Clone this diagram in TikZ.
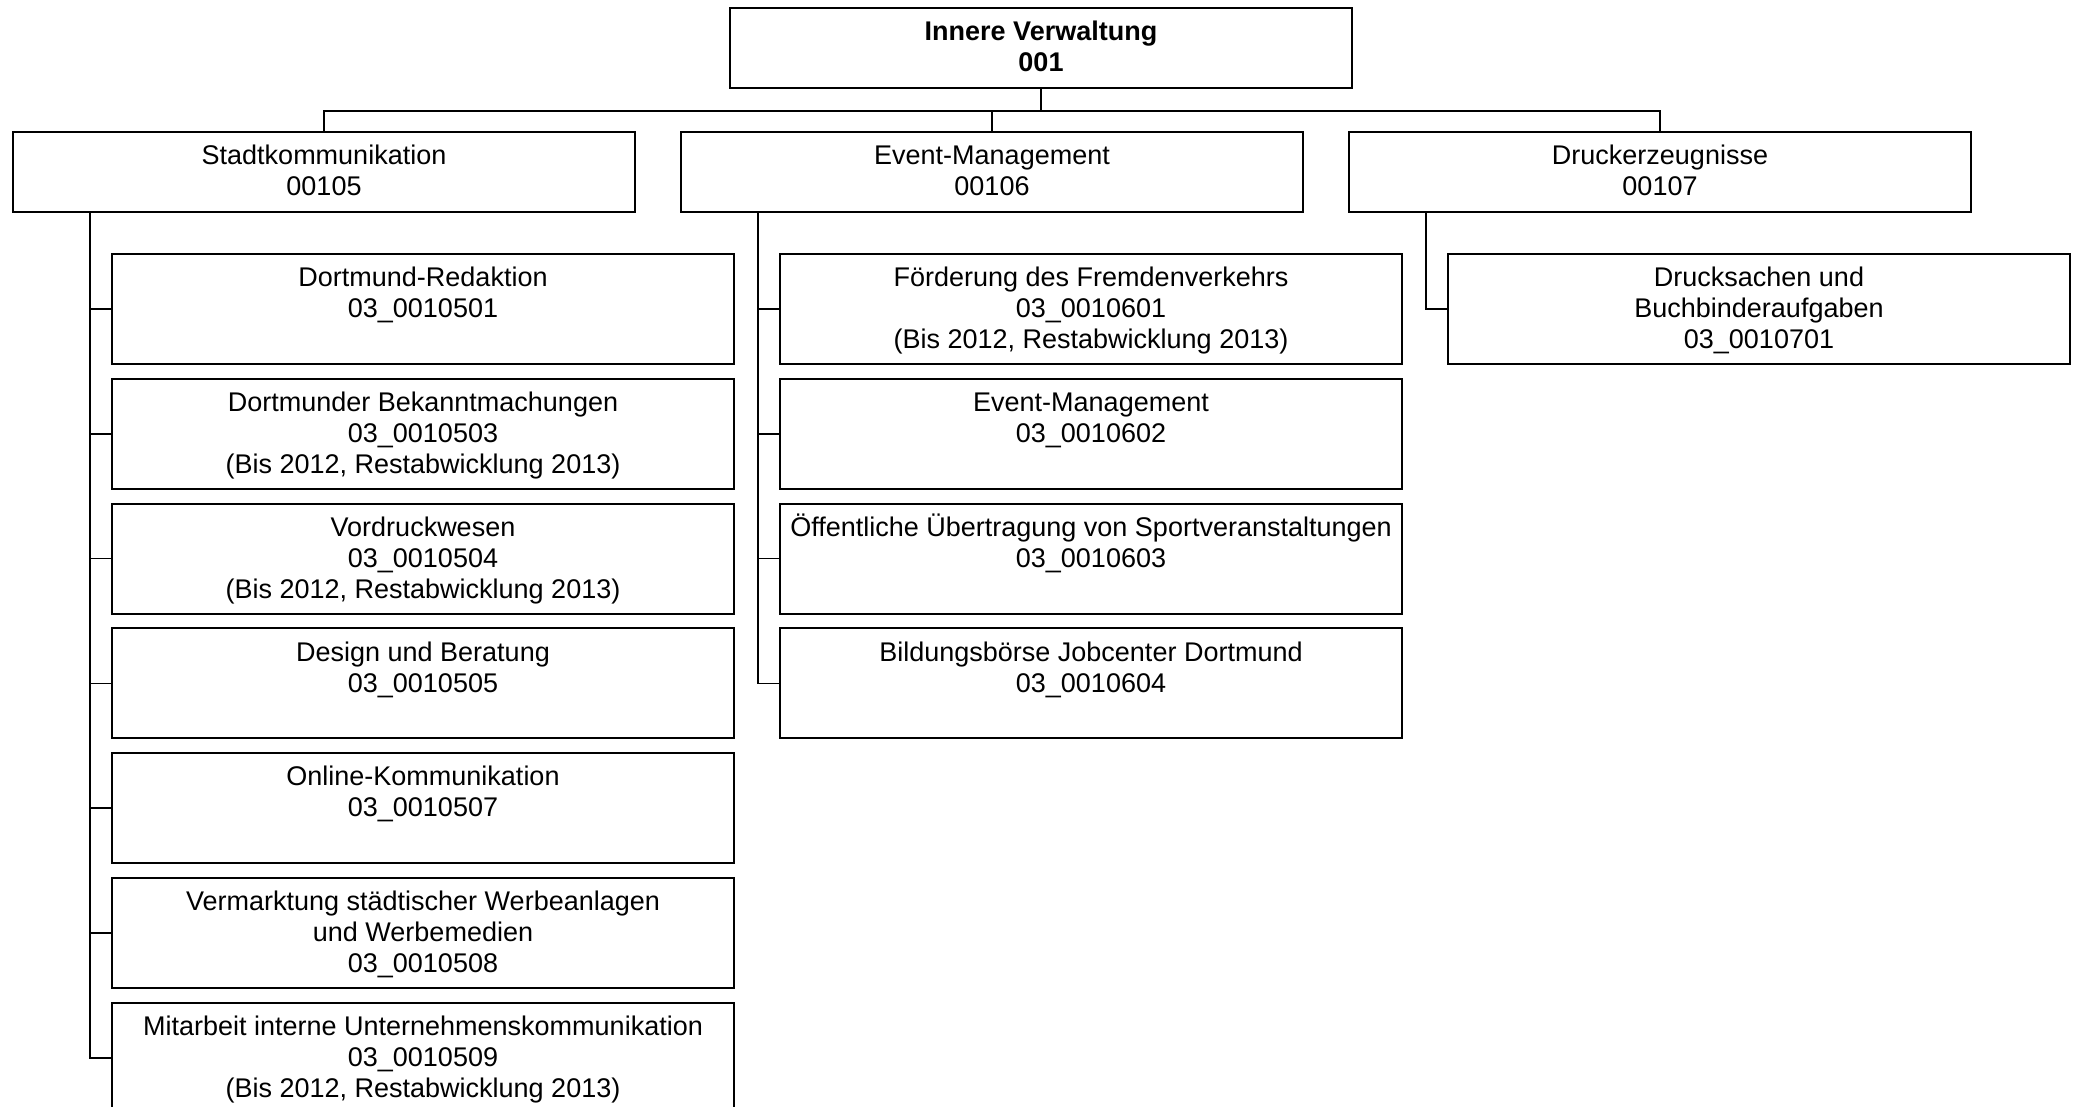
\documentclass[tikz,border=0pt]{standalone}
\usepackage{fontspec}
\setmainfont{Liberation Sans}

% text of a box, top aligned
\newcommand{\boxtxt}[2]{\parbox[c][#1][t]{248.8pt}{\centering\rule{0pt}{13.1pt}#2}}

\begin{document}
\begin{tikzpicture}[x=0.4pt, y=-0.4pt,
    orgbox/.style={draw, line width=0.8pt, inner sep=0pt, outer sep=0pt, anchor=north west,
        font=\fontsize{10.8pt}{12.4pt}\selectfont},
    link/.style={line width=0.6pt}]
    % Page area
    \fill[white] (0,0) rectangle (2074,1107);
    \useasboundingbox (0,0) rectangle (2074,1107);
    \clip (0,0) rectangle (2074,1107);

    % Top unit
    \node[orgbox] (iv) at (730,8) {\boxtxt{32pt}{\bfseries Innere Verwaltung\\001}};

    % Departments
    \node[orgbox] (sk) at (13,132) {\boxtxt{32pt}{Stadtkommunikation\\00105}};
    \node[orgbox] (em) at (681,132) {\boxtxt{32pt}{Event-Management\\00106}};
    \node[orgbox] (dz) at (1349,132) {\boxtxt{32pt}{Druckerzeugnisse\\00107}};

    % Lines from the top unit
    \draw[link] (iv.south) -- ++(0,22);
    \draw[link] (sk.north) -- ++(0,-21) -| (dz.north);
    \draw[link] (em.north) -- ++(0,-21);

    % Stadtkommunikation
    \foreach \k/\txt in {
        1/{Dortmund-Redaktion\\03\_0010501},
        2/{Dortmunder Bekanntmachungen\\03\_0010503\\(Bis 2012, Restabwicklung 2013)},
        3/{Vordruckwesen\\03\_0010504\\(Bis 2012, Restabwicklung 2013)},
        4/{Design und Beratung\\03\_0010505},
        5/{Online-Kommunikation\\03\_0010507},
        6/{Vermarktung städtischer Werbeanlagen\\und Werbemedien\\03\_0010508},
        7/{Mitarbeit interne Unternehmenskommunikation\\03\_0010509\\(Bis 2012, Restabwicklung 2013)}}
        \node[orgbox] (sk\k) at (112,{254+124.8*(\k-1)}) {\boxtxt{44pt}{\txt}};
    \draw[link] ([xshift=30.8pt]sk.south west) |- (sk7.west);
    \foreach \k in {1,...,6}
        \draw[link] (sk\k.west) -- ++(-22,0);

    % Event-Management
    \foreach \k/\txt in {
        1/{Förderung des Fremdenverkehrs\\03\_0010601\\(Bis 2012, Restabwicklung 2013)},
        2/{Event-Management\\03\_0010602},
        3/{Öffentliche Übertragung von Sportveranstaltungen\\03\_0010603},
        4/{Bildungsbörse Jobcenter Dortmund\\03\_0010604}}
        \node[orgbox] (em\k) at (780,{254+124.8*(\k-1)}) {\boxtxt{44pt}{\txt}};
    \draw[link] ([xshift=30.8pt]em.south west) |- (em4.west);
    \foreach \k in {1,...,3}
        \draw[link] (em\k.west) -- ++(-22,0);

    % Druckerzeugnisse
    \node[orgbox] (dz1) at (1448,254) {\boxtxt{44pt}{Drucksachen und\\Buchbinderaufgaben\\03\_0010701}};
    \draw[link] ([xshift=30.8pt]dz.south west) |- (dz1.west);
\end{tikzpicture}
\end{document}
